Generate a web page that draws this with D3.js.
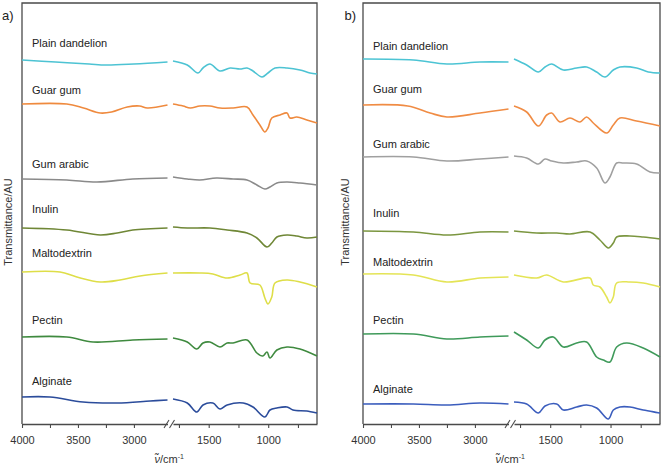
<!DOCTYPE html>
<html>
<head>
<meta charset="utf-8">
<script src="https://cdn.jsdelivr.net/npm/d3@7"></script>
<style>
  body { margin: 0; background: #fff; }
  svg { display: block; font-family: "Liberation Sans", Arial, sans-serif; }
</style>
</head>
<body>
<svg id="chart" width="663" height="468"></svg>
<script>
// ==========================
// DATA
// ==========================
const samples = ["Plain dandelion", "Guar gum", "Gum arabic", "Inulin", "Maltodextrin", "Pectin", "Alginate"];
const colorsA = ["#4dc3d3", "#ef8a3e", "#8a8a8a", "#6f8736", "#dede48", "#3f8a3f", "#2b4c9b"];
const colorsB = ["#4cc4d4", "#f08c44", "#a0a0a0", "#7b9640", "#e4e456", "#3f9a5a", "#3b5dbd"];

const majorTicks = [4000, 3500, 3000, 1500, 1000];
const minorTicks = [3750, 3250, 1750, 1250, 750];

// label levels (AU) for the sample names
const labelLevelA = [37.7, 33.0, 25.6, 21.1, 16.7, 10.0, 3.9];
const labelLevelB = [37.4, 33.1, 27.6, 20.7, 15.8, 10.0, 3.1];

// spectra, [wavenumber cm-1, transmittance AU] (stacked with offsets)
const plainA = [[4000,36.4],[3700,36.2],[3400,36.0],[3250,35.9],[3000,36.0],[2700,36.2],
  [1800,36.3],[1680,35.9],[1590,35.1],[1548,35.6],[1490,36.0],[1405,35.3],[1320,35.6],[1237,35.5],[1178,35.6],[1128,35.3],[1052,34.7],[1002,35.1],[943,35.6],[842,35.6],[733,35.4],[649,35.1],[590,35.0]];
const guarA = [[4000,32.0],[3600,32.0],[3450,31.6],[3300,31.1],[3200,31.2],[3060,31.7],[2950,31.8],[2880,31.6],[2700,31.9],
  [1800,32.0],[1715,31.8],[1655,31.6],[1575,31.8],[1490,31.8],[1405,31.6],[1295,31.6],[1178,31.7],[1128,30.9],[1070,29.9],[1028,29.2],[1002,29.6],[970,30.6],[900,30.9],[842,31.1],[817,30.6],[760,30.7],[675,30.4],[590,30.1]];
const gumArabicA = [[4000,24.5],[3600,24.4],[3330,24.2],[3010,24.5],[2700,24.6],
  [1800,24.7],[1680,24.5],[1575,24.4],[1435,24.6],[1295,24.5],[1178,24.4],[1095,23.9],[1028,23.5],[985,23.7],[927,24.1],[842,24.2],[733,24.1],[590,23.9]];
const inulinA = [[4000,19.6],[3600,19.4],[3300,18.9],[3150,19.1],[3010,19.4],[2700,19.6],
  [1800,19.7],[1680,19.6],[1490,19.6],[1345,19.4],[1178,19.1],[1095,18.6],[1010,17.7],[970,18.1],[927,18.7],[842,18.9],[760,18.8],[675,18.6],[590,18.7]];
const maltoA = [[4000,15.2],[3660,15.2],[3510,14.7],[3300,14.2],[3125,14.4],[2945,14.8],[2700,15.1],
  [1800,15.1],[1575,15.1],[1465,15.0],[1345,14.6],[1237,14.9],[1178,15.1],[1152,14.1],[1070,13.9],[1028,12.6],[1002,12.0],[970,12.7],[943,14.1],[842,14.4],[733,14.2],[590,13.7]];
const pectinA = [[4000,8.7],[3600,8.7],[3365,8.2],[3010,8.4],[2700,8.5],
  [1800,8.6],[1680,8.2],[1600,7.5],[1548,8.1],[1490,8.2],[1405,7.7],[1345,8.1],[1295,8.1],[1178,8.4],[1095,7.1],[1045,6.8],[1010,7.2],[985,6.6],[927,7.4],[842,7.7],[733,7.5],[590,6.8]];
const alginateA = [[4000,2.7],[3750,2.7],[3455,2.2],[3150,2.1],[2855,2.3],[2700,2.4],
  [1800,2.5],[1680,2.1],[1600,1.2],[1548,1.9],[1465,2.1],[1405,1.5],[1345,1.9],[1210,2.1],[1128,1.7],[1028,0.7],[985,1.4],[927,1.6],[842,1.7],[792,1.4],[675,1.3],[590,1.1]];

const plainB = [[4000,36.5],[3550,36.4],[3250,36.0],[2955,36.2],[2700,36.2],
  [1800,36.5],[1695,35.9],[1598,35.2],[1543,35.7],[1488,36.0],[1391,35.4],[1281,35.6],[1198,35.7],[1115,35.2],[1046,34.7],[977,35.4],[922,35.7],[784,35.6],[687,35.2],[590,35.1]];
const guarB = [[4000,31.9],[3600,31.8],[3400,31.1],[3250,30.7],[2955,31.1],[2700,31.5],
  [1800,31.8],[1695,31.2],[1598,29.8],[1529,30.9],[1488,31.1],[1419,30.2],[1336,30.6],[1253,30.2],[1198,30.7],[1143,30.1],[1032,29.1],[977,29.9],[922,30.6],[784,30.3],[590,29.8]];
const gumArabicB = [[4000,26.7],[3550,26.7],[3250,26.3],[2955,26.5],[2700,26.7],
  [1800,26.8],[1695,26.6],[1598,26.0],[1543,26.5],[1488,26.3],[1391,26.1],[1281,26.2],[1198,26.3],[1115,25.6],[1046,24.1],[1005,24.7],[949,26.1],[894,26.1],[784,26.0],[673,25.2],[590,25.1]];
const inulinB = [[4000,19.3],[3550,19.2],[3250,18.9],[2955,19.2],[2700,19.2],
  [1800,19.3],[1612,19.1],[1446,19.1],[1336,19.0],[1170,19.2],[1088,18.4],[1018,17.6],[977,18.1],[949,18.7],[839,18.8],[729,18.7],[590,18.5]];
const maltoB = [[4000,15.0],[3550,14.9],[3250,14.2],[2955,14.6],[2700,14.7],
  [1800,14.9],[1612,14.6],[1529,14.9],[1391,14.2],[1170,14.6],[1143,13.9],[1088,13.7],[1032,12.7],[1005,12.1],[977,12.7],[949,14.1],[839,14.2],[729,14.1],[590,13.7]];
const pectinB = [[4000,9.0],[3550,9.0],[3250,8.5],[2955,8.7],[2700,8.8],
  [1800,9.2],[1695,8.4],[1598,7.6],[1543,8.4],[1474,8.7],[1391,7.7],[1281,8.1],[1198,8.2],[1115,6.7],[1060,6.4],[1005,6.2],[949,7.7],[867,8.1],[729,7.6],[590,6.7]];
const alginateB = [[4000,2.0],[3550,2.0],[3250,1.9],[2955,2.1],[2700,2.0],
  [1800,2.2],[1695,2.0],[1598,1.1],[1543,1.8],[1446,2.0],[1391,1.4],[1281,1.7],[1198,1.9],[1115,1.6],[1018,0.5],[977,1.4],[922,1.7],[839,1.7],[729,1.4],[590,1.1]];

const spectraA = [plainA, guarA, gumArabicA, inulinA, maltoA, pectinA, alginateA];
const spectraB = [plainB, guarB, gumArabicB, inulinB, maltoB, pectinB, alginateB];

// ==========================
// LAYOUT
// ==========================
const svg = d3.select("#chart");
const yTop = 3, yBottom = 424;
const y = d3.scaleLinear().domain([0, 42.1]).range([yBottom, yTop]);

const panels = [
  { tag: "a)", spectra: spectraA, colors: colorsA, levels: labelLevelA,
    left: [22, 167.5], right: [173, 317], tagX: 2, yLabX: 11.5, nameX: 32 },
  { tag: "b)", spectra: spectraB, colors: colorsB, levels: labelLevelB,
    left: [363, 508.5], right: [514, 660], tagX: 344.5, yLabX: 349, nameX: 373 }
];

panels.forEach(p => {
  const xl = d3.scaleLinear().domain([4000, 2700]).range(p.left);
  const xr = d3.scaleLinear().domain([1800, 590]).range(p.right);
  const g = svg.append("g");

  // frame (left, top, right)
  g.append("path")
    .attr("d", `M${p.left[0]},${yBottom}V${yTop}H${p.right[1]}V${yBottom}`)
    .attr("fill", "none")
    .attr("stroke", "#4a4a4a")
    .attr("stroke-width", 1.3);

  // axes, broken in two parts
  const fmt = d => majorTicks.includes(d) ? d : "";
  const allTicks = majorTicks.concat(minorTicks);
  [[xl, allTicks.filter(d => d > 2000)], [xr, allTicks.filter(d => d < 2000)]].forEach(([sc, tv]) => {
    const ax = g.append("g")
      .attr("transform", `translate(0,${yBottom})`)
      .call(d3.axisBottom(sc).tickValues(tv).tickFormat(fmt)
        .tickSize(4).tickSizeOuter(0).tickPadding(8));
    ax.select(".domain").attr("stroke", "#4a4a4a").attr("stroke-width", 1.3);
    ax.selectAll(".tick line").attr("stroke", "#4a4a4a").attr("stroke-width", 1.1);
    ax.selectAll(".tick text").attr("fill", "#333").style("font-size", "11px")
      .style("font-family", "Liberation Sans, Arial, sans-serif");
  });

  // break marks
  [p.left[1] - 1, p.right[0] - 1].forEach(bx => {
    g.append("line")
      .attr("x1", bx - 2.5).attr("y1", yBottom + 4)
      .attr("x2", bx + 2.5).attr("y2", yBottom - 4)
      .attr("stroke", "#4a4a4a").attr("stroke-width", 1.1);
  });

  // spectra
  const line = d3.line()
    .x(d => d[0] > 2000 ? xl(d[0]) : xr(d[0]))
    .y(d => y(d[1]))
    .curve(d3.curveCatmullRom.alpha(0.5));

  p.spectra.forEach((s, i) => {
    [s.filter(d => d[0] > 2000), s.filter(d => d[0] < 2000)].forEach(part => {
      g.append("path")
        .datum(part)
        .attr("d", line)
        .attr("fill", "none")
        .attr("stroke", p.colors[i])
        .attr("stroke-width", 1.6)
        .attr("stroke-linejoin", "round");
    });
    g.append("text")
      .attr("x", p.nameX)
      .attr("y", y(p.levels[i]))
      .attr("fill", "#222")
      .style("font-size", "11px")
      .text(samples[i]);
  });

  // panel tag
  g.append("text")
    .attr("x", p.tagX).attr("y", 20)
    .attr("fill", "#222")
    .style("font-size", "13px")
    .text(p.tag);

  // y label
  g.append("text")
    .attr("transform", `translate(${p.yLabX},222) rotate(-90)`)
    .attr("text-anchor", "middle")
    .attr("fill", "#333")
    .style("font-size", "11px")
    .text("Transmittance/AU");

  // x label
  const xt = g.append("text")
    .attr("x", (p.left[1] + p.right[0]) / 2 - 1)
    .attr("y", 463)
    .attr("text-anchor", "middle")
    .attr("fill", "#333")
    .style("font-size", "11px");
  xt.append("tspan").style("font-style", "italic").text("\u03BD\u0303");
  xt.append("tspan").text("/cm");
  xt.append("tspan").attr("dy", -4).style("font-size", "7px").text("-1");
});
</script>
</body>
</html>
